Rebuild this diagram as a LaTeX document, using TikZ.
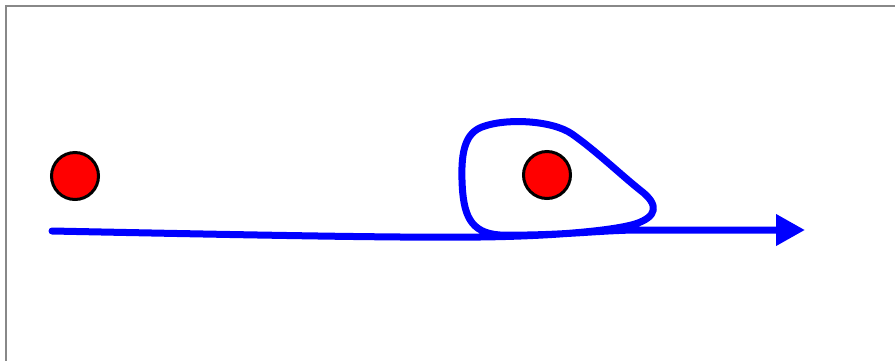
\documentclass[tikz,border=0pt]{standalone}
\usepackage{tikz}
\usetikzlibrary{arrows.meta}
\definecolor{framegray}{RGB}{136,136,136}

\begin{document}
\begin{tikzpicture}[x=1pt, y=-1pt,
    dot/.style={circle, draw=black, fill=red, line width=3pt, minimum size=47pt, inner sep=0pt},
    track/.style={blue, line width=7pt, line cap=round, line join=round}]
            \useasboundingbox (0,0) rectangle (895,360);
            % Frame
            \draw[framegray, line width=2.5pt] (6,6) rectangle (910,380);

            % Points
            \node[dot] (p1) at (75,176) {};
            \node[dot] (p2) at (547,175) {};

            % Path with loop
            \coordinate (start) at (52,231);
            \coordinate (finish) at (805,230);
            \draw[track, -{Triangle[length=29pt,width=30pt]}] (start)
                .. controls (250,235) and (400,238) .. (480,237)
                .. controls (560,236) and (615,230) .. (635,224)
                .. controls (657,217) and (660,205) .. (640,190)
                .. controls (620,174) and (595,150) .. (572,134)
                .. controls (552,120) and (505,118) .. (482,127)
                .. controls (466,133) and (461,150) .. (462,180)
                .. controls (463,215) and (470,233) .. (500,235)
                .. controls (560,236) and (600,230) .. (640,230)
                -- (finish);
        \end{tikzpicture}
\end{document}
